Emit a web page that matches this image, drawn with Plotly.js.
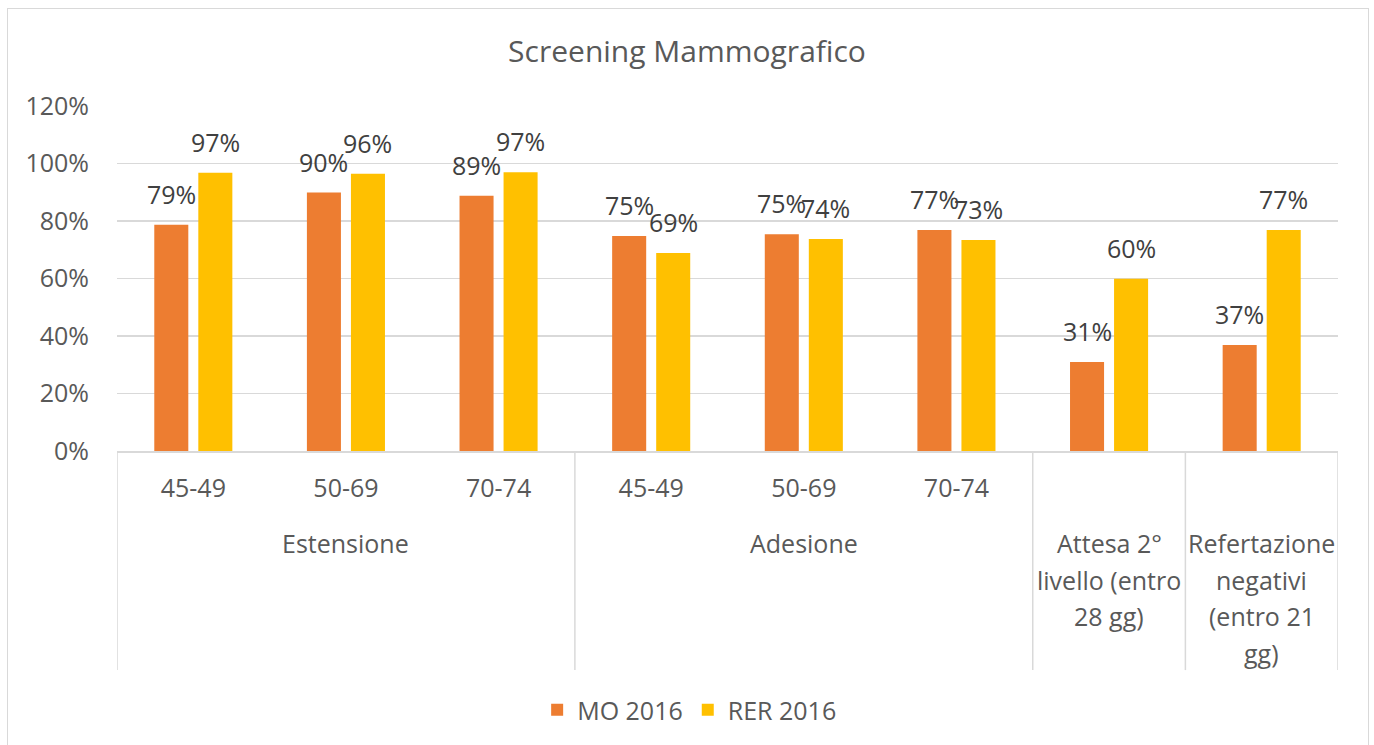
<!DOCTYPE html>
<html>
<head>
<meta charset="utf-8">
<script src="https://cdn.plot.ly/plotly-3.0.1.min.js"></script>
<style>
  html, body { margin: 0; padding: 0; background: #fff; }
  #wrap { position: relative; width: 1374px; height: 745px; overflow: hidden; }
  #chart { width: 1374px; height: 745px; }
  #frame { position: absolute; left: 7px; top: 8px; width: 1360px; height: 760px;
           border: 1.5px solid #D9D9D9; pointer-events: none; }
</style>
</head>
<body>
<div id="wrap">
  <div id="chart"></div>
  <div id="frame"></div>
</div>
<script>
// ---- data ----
const innerLabels = ['45-49', '50-69', '70-74', '45-49', '50-69', '70-74', '', ''];
const outerLabels = ['Estensione', 'Adesione', 'Attesa 2°<br>livello (entro<br>28 gg)', 'Refertazione<br>negativi<br>(entro 21<br>gg)'];
const outerSpans = [3, 3, 1, 1];
const seriesNames = ['MO 2016', 'RER 2016'];
const moValues  = [0.787, 0.899, 0.888, 0.748, 0.754, 0.769, 0.310, 0.369];
const rerValues = [0.968, 0.964, 0.970, 0.689, 0.737, 0.734, 0.599, 0.769];
const yTickVals = [0, 0.2, 0.4, 0.6, 0.8, 1.0, 1.2];

// ---- styling ----
const FONT = 'Open Sans, sans-serif';
const GRAY = '#595959';
const DARK = '#404040';
const LINE = '#D9D9D9';
const colors = ['#ED7D31', '#FFC000'];

const idx = innerLabels.map((_, i) => i);
const series = [moValues, rerValues];

const traces = series.map((vals, s) => ({
  type: 'bar',
  name: seriesNames[s],
  x: idx,
  y: vals,
  marker: { color: colors[s] },
  hoverinfo: 'skip'
}));

// data labels as annotations above each bar
const annotations = [];
const barShift = [-22, 22];
series.forEach((vals, s) => {
  vals.forEach((v, i) => {
    annotations.push({
      x: i, y: v, xref: 'x', yref: 'y',
      xshift: barShift[s], yshift: 12,
      yanchor: 'bottom', xanchor: 'center',
      showarrow: false,
      text: Math.round(v * 100) + '%',
      font: { family: FONT, size: 25, color: DARK }
    });
  });
});

// outer category labels + dividers
const shapes = [];
let start = 0;
const dividerBottom = -0.635;
const outerY = -0.2667;
const outerLineStep = 36.7;
shapes.push({ type: 'line', xref: 'x', yref: 'paper', x0: -0.5, x1: -0.5, y0: 0, y1: dividerBottom,
              line: { color: LINE, width: 1.5 } });
outerLabels.forEach((lab, g) => {
  const end = start + outerSpans[g] - 1;
  lab.split('<br>').forEach((line, k) => {
    annotations.push({
      x: (start + end) / 2, y: outerY, xref: 'x', yref: 'paper',
      yshift: -outerLineStep * k,
      yanchor: 'middle', xanchor: 'center', showarrow: false,
      text: line,
      font: { family: FONT, size: 25, color: GRAY }
    });
  });
  shapes.push({ type: 'line', xref: 'x', yref: 'paper', x0: end + 0.5, x1: end + 0.5, y0: 0, y1: dividerBottom,
                line: { color: LINE, width: 1.5 } });
  start = end + 1;
});

const layout = {
  width: 1374, height: 745,
  paper_bgcolor: '#fff', plot_bgcolor: '#fff',
  margin: { l: 117, r: 36, t: 106, b: 294, pad: 0, autoexpand: false },
  title: {
    text: 'Screening Mammografico',
    font: { family: FONT, size: 30, color: GRAY },
    x: 0.5, xref: 'container', xanchor: 'center',
    y: 1 - 51 / 745, yref: 'container', yanchor: 'middle'
  },
  barmode: 'group',
  bargap: 0.423,
  bargroupgap: 0.227,
  showlegend: true,
  legend: {
    orientation: 'h', x: 0.469, xanchor: 'center',
    y: -0.751, yanchor: 'middle',
    font: { family: FONT, size: 25, color: GRAY },
    traceorder: 'normal'
  },
  xaxis: {
    type: 'linear',
    automargin: false,
    range: [-0.5, innerLabels.length - 0.5],
    tickvals: idx,
    ticktext: innerLabels,
    tickangle: 0,
    ticks: '',
    ticklabelstandoff: 14,
    showgrid: false,
    zeroline: false,
    showline: true, linecolor: LINE, linewidth: 1.5,
    tickfont: { family: FONT, size: 25, color: GRAY },
    fixedrange: true
  },
  yaxis: {
    automargin: false,
    range: [0, 1.2],
    tickvals: yTickVals,
    tickformat: '.0%',
    ticks: '',
    ticklabelstandoff: 27,
    showgrid: true, gridcolor: LINE, gridwidth: 1.5,
    zeroline: false,
    showline: false,
    tickfont: { family: FONT, size: 25, color: GRAY },
    fixedrange: true
  },
  annotations: annotations,
  shapes: shapes
};

Plotly.newPlot('chart', traces, layout, { displayModeBar: false, staticPlot: true });
</script>
</body>
</html>
